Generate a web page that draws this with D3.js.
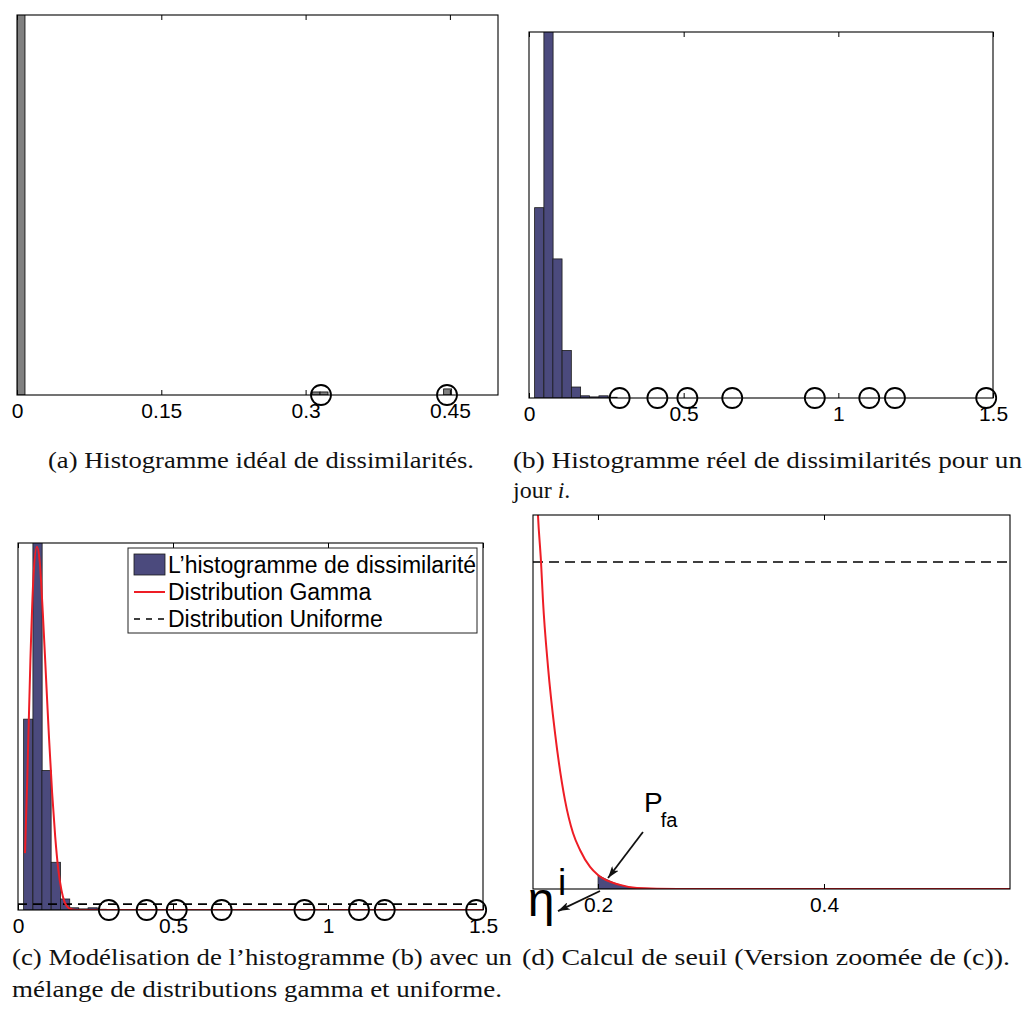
<!DOCTYPE html>
<html><head><meta charset="utf-8">
<script src="https://cdn.jsdelivr.net/npm/d3@7"></script>
<style>
body{margin:0;background:#fff}
svg{display:block}
</style>
</head><body><svg id="chart" width="1024" height="1017"></svg>
<script>
// ---------- DATA ----------
// (a) ideal histogram
const idealBinEdges = [0, 0.3067, 0.315, 0.4435];
const idealBinWidth = 0.0083;
const idealCounts = [300, 2, 2, 4];
const idealYMax = 250;
const idealOutliers = [0.316, 0.447];
const idealTicks = [0, 0.15, 0.3, 0.45];

// (b)/(c) real histogram
const realBinCenters = [0.033, 0.063, 0.092, 0.122, 0.152, 0.181, 0.211, 0.241, 0.270];
const realBinWidth = 0.0297;
const realHeights = [0.52, 1.05, 0.38, 0.13, 0.03, 0.006, 0.003, 0.006, 0.002];
const outliers = [0.293, 0.415, 0.512, 0.657, 0.924, 1.10, 1.183, 1.478];
const realTicks = [0, 0.5, 1, 1.5];

// (c) gamma fit
const gammaX = [0.0226, 0.03, 0.04, 0.05, 0.061, 0.07, 0.08, 0.09, 0.10, 0.11, 0.12, 0.13, 0.14, 0.15, 0.16, 0.17, 0.18, 0.20, 0.25, 1.5];
const gammaY = [0.155, 0.36, 0.68, 0.91, 0.99, 0.95, 0.81, 0.64, 0.47, 0.32, 0.20, 0.11, 0.055, 0.022, 0.008, 0.003, 0.001, 0.0003, 0, 0];
const uniformLevel = 0.016;

// (d) zoomed tail
const tailX = [0.145, 0.1469, 0.1496, 0.1513, 0.1558, 0.162, 0.1708, 0.1779, 0.1841, 0.193, 0.200, 0.2195, 0.2345, 0.27, 0.565];
const tailY = [0.021, 0.0183, 0.0160, 0.01414, 0.01086, 0.00763, 0.00435, 0.00274, 0.00191, 0.00108, 0.00068, 0.0002, 0.00005, 0, 0];
const zoomTicks = [0.2, 0.4];
const threshold = 0.2;

// legend / captions
const legendLabels = ["L’histogramme de dissimilarité", "Distribution Gamma", "Distribution Uniforme"];

// ---------- DRAW ----------
const svg = d3.select("#chart");
svg.append("rect").attr("width", 1024).attr("height", 1017).attr("fill", "#fff");
const SANS = '"Liberation Sans", Arial, Helvetica, sans-serif';
const SERIF = '"Liberation Serif", "Times New Roman", serif';
const NAVY = "#4b4a7d";
const RED = "#ee1d25";

const defs = svg.append("defs");
defs.append("marker").attr("id", "arrow").attr("viewBox", "0 0 12 8")
  .attr("refX", 12).attr("refY", 4).attr("markerWidth", 12).attr("markerHeight", 8)
  .attr("markerUnits", "userSpaceOnUse").attr("orient", "auto")
  .append("path").attr("d", "M0,0 L12,4 L0,8 L3,4 z").attr("fill", "#111");

function makePanel(id, box, xDom, yDom) {
  const x = d3.scaleLinear().domain(xDom).range([box.x0, box.x1]);
  const y = d3.scaleLinear().domain(yDom).range([box.y1, box.y0]);
  defs.append("clipPath").attr("id", id).append("rect")
    .attr("x", box.x0).attr("y", box.y0).attr("width", box.x1 - box.x0).attr("height", box.y1 - box.y0);
  const g = svg.append("g");
  const plot = g.append("g").attr("clip-path", `url(#${id})`);
  return { g, plot, x, y, box };
}

function frame(p, ticks) {
  const b = p.box;
  p.g.append("rect").attr("x", b.x0).attr("y", b.y0).attr("width", b.x1 - b.x0).attr("height", b.y1 - b.y0)
    .attr("fill", "none").attr("stroke", "#000").attr("stroke-width", 1.1);
  const bottom = p.g.append("g").attr("transform", `translate(0,${b.y1})`)
    .call(d3.axisBottom(p.x).tickValues(ticks).tickSizeInner(-5).tickSizeOuter(0).tickPadding(8).tickFormat(d => String(d)));
  bottom.select(".domain").remove();
  bottom.attr("font-size", 21).attr("font-family", SANS);
  bottom.selectAll("line").attr("stroke", "#000");
  const top = p.g.append("g").attr("transform", `translate(0,${b.y0})`)
    .call(d3.axisTop(p.x).tickValues(ticks).tickSizeInner(-5).tickSizeOuter(0).tickFormat(""));
  top.select(".domain").remove();
  top.selectAll("line").attr("stroke", "#000");
}

function circles(p, vals) {
  p.g.append("g").selectAll("circle").data(vals).join("circle")
    .attr("cx", d => p.x(d)).attr("cy", p.y(0)).attr("r", 10)
    .attr("fill", "none").attr("stroke", "#000").attr("stroke-width", 1.8);
}

function realBars(p) {
  p.plot.append("g").selectAll("rect").data(realBinCenters.map((c, i) => ({ c, h: realHeights[i] }))).join("rect")
    .attr("x", d => p.x(d.c - realBinWidth / 2))
    .attr("width", d => p.x(d.c + realBinWidth / 2) - p.x(d.c - realBinWidth / 2))
    .attr("y", d => p.y(d.h)).attr("height", d => p.y(0) - p.y(d.h))
    .attr("fill", NAVY).attr("stroke", "#1a1a1a").attr("stroke-width", 0.8);
}

// (a)
const pa = makePanel("clipA", { x0: 17, x1: 498, y0: 15, y1: 395 }, [0, 0.5], [0, idealYMax]);
pa.plot.append("g").selectAll("rect").data(idealBinEdges.map((e, i) => ({ e, c: idealCounts[i] }))).join("rect")
  .attr("x", d => pa.x(d.e)).attr("width", d => pa.x(d.e + idealBinWidth) - pa.x(d.e))
  .attr("y", d => pa.y(d.c)).attr("height", d => pa.y(0) - pa.y(d.c))
  .attr("fill", "#808080").attr("stroke", "#000").attr("stroke-width", 0.8);
frame(pa, idealTicks);
circles(pa, idealOutliers);

// (b)
const pb = makePanel("clipB", { x0: 529, x1: 993, y0: 32, y1: 398 }, [0, 1.5], [0, 1]);
realBars(pb);
frame(pb, realTicks);
circles(pb, outliers);

// (c)
const pc = makePanel("clipC", { x0: 18, x1: 483, y0: 543, y1: 910 }, [0, 1.5], [0, 1]);
realBars(pc);
pc.plot.append("line").attr("x1", pc.x(0)).attr("x2", pc.x(1.5)).attr("y1", pc.y(uniformLevel)).attr("y2", pc.y(uniformLevel))
  .attr("stroke", "#000").attr("stroke-width", 1.6).attr("stroke-dasharray", "9,6");
pc.plot.append("path").datum(gammaX.map((v, i) => [v, gammaY[i]]))
  .attr("d", d3.line().x(d => pc.x(d[0])).y(d => pc.y(d[1])).curve(d3.curveMonotoneX))
  .attr("fill", "none").attr("stroke", RED).attr("stroke-width", 2);
frame(pc, realTicks);
circles(pc, outliers);
// legend
const lg = pc.g.append("g");
lg.append("rect").attr("x", 128).attr("y", 548).attr("width", 349).attr("height", 85)
  .attr("fill", "#fff").attr("stroke", "#222").attr("stroke-width", 1);
const rowY = [565, 592, 619];
lg.append("rect").attr("x", 134).attr("y", 554).attr("width", 31).attr("height", 21)
  .attr("fill", NAVY).attr("stroke", "#1a1a1a").attr("stroke-width", 0.8);
lg.append("line").attr("x1", 134).attr("x2", 165).attr("y1", rowY[1]).attr("y2", rowY[1]).attr("stroke", RED).attr("stroke-width", 2);
lg.append("line").attr("x1", 134).attr("x2", 165).attr("y1", rowY[2]).attr("y2", rowY[2]).attr("stroke", "#000").attr("stroke-width", 1.6).attr("stroke-dasharray", "6,6");
lg.selectAll("text").data(legendLabels).join("text")
  .attr("x", 168).attr("y", (d, i) => rowY[i] + 8).attr("font-family", SANS).attr("font-size", 23).text(d => d);

// (d)
const pd = makePanel("clipD", { x0: 533, x1: 1010, y0: 515, y1: 889 }, [0.1425, 0.5646], [0, 0.0183]);
const tail = tailX.map((v, i) => [v, tailY[i]]);
pd.plot.append("path").datum(tail.filter(d => d[0] >= threshold))
  .attr("d", d3.area().x(d => pd.x(d[0])).y0(pd.y(0)).y1(d => pd.y(d[1])).curve(d3.curveMonotoneX))
  .attr("fill", NAVY).attr("stroke", "#1a1a1a").attr("stroke-width", 0.6);
pd.plot.append("line").attr("x1", pd.x(0.1425)).attr("x2", pd.x(0.5646)).attr("y1", pd.y(uniformLevel)).attr("y2", pd.y(uniformLevel))
  .attr("stroke", "#000").attr("stroke-width", 1.6).attr("stroke-dasharray", "10,6");
pd.plot.append("path").datum(tail)
  .attr("d", d3.line().x(d => pd.x(d[0])).y(d => pd.y(d[1])).curve(d3.curveMonotoneX))
  .attr("fill", "none").attr("stroke", RED).attr("stroke-width", 2);
frame(pd, zoomTicks);
// annotations (data coordinates of panel d)
const ann = pd.g.append("g");
ann.append("line").attr("x1", pd.x(0.2018)).attr("y1", pd.y(-0.0001)).attr("x2", pd.x(0.1646)).attr("y2", pd.y(-0.00108))
  .attr("stroke", "#111").attr("stroke-width", 1.8).attr("marker-end", "url(#arrow)");
ann.append("line").attr("x1", pd.x(0.2398)).attr("y1", pd.y(0.00279)).attr("x2", pd.x(0.2089)).attr("y2", pd.y(0.00054))
  .attr("stroke", "#111").attr("stroke-width", 1.8).attr("marker-end", "url(#arrow)");
ann.append("text").attr("x", pd.x(0.1496)).attr("y", pd.y(-0.00132)).attr("text-anchor", "middle")
  .attr("font-family", SANS).attr("font-size", 48).text("η");
ann.append("text").attr("x", pd.x(0.1682)).attr("y", pd.y(-0.00029)).attr("text-anchor", "middle")
  .attr("font-family", SANS).attr("font-size", 37).text("i");
ann.append("text").attr("x", pd.x(0.2407)).attr("y", pd.y(0.00377))
  .attr("font-family", SANS).attr("font-size", 28).text("P");
ann.append("text").attr("x", pd.x(0.2556)).attr("y", pd.y(0.00303))
  .attr("font-family", SANS).attr("font-size", 20).text("fa");

// captions
const caps = [
  { t: "(a) Histogramme idéal de dissimilarités.", x: 48, y: 468, w: 426 },
  { t: "(b) Histogramme réel de dissimilarités pour un", x: 513, y: 468, w: 509 },
  { t: "(c) Modélisation de l’histogramme (b) avec un", x: 12, y: 965, w: 500 },
  { t: "mélange de distributions gamma et uniforme.", x: 12, y: 997, w: 490 },
  { t: "(d) Calcul de seuil (Version zoomée de (c)).", x: 522, y: 965, w: 488 }
];
svg.append("g").selectAll("text").data(caps).join("text")
  .attr("x", d => d.x).attr("y", d => d.y).attr("textLength", d => d.w).attr("lengthAdjust", "spacingAndGlyphs")
  .attr("font-family", SERIF).attr("font-size", 24).attr("fill", "#111").text(d => d.t);
const jl = svg.append("text").attr("x", 513).attr("y", 498).attr("font-family", SERIF).attr("font-size", 24).attr("fill", "#111");
jl.append("tspan").text("jour ");
jl.append("tspan").attr("font-style", "italic").text("i");
jl.append("tspan").text(".");
</script>
</body></html>
